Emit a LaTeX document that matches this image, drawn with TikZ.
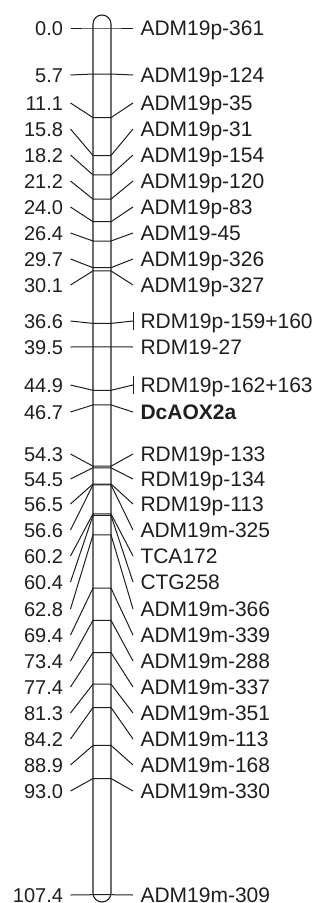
\documentclass[tikz,border=0pt]{standalone}
\usepackage{fontspec}
\setmainfont{Liberation Sans}
\definecolor{ink}{RGB}{30,30,30}
\begin{document}
\begin{tikzpicture}[x=1pt,y=-1pt,
  lab/.style={inner sep=0pt, outer xsep=7.5pt, text height=15pt, text depth=0pt, text=ink},
  num/.style={lab, anchor=east, font=\fontsize{20}{20}\selectfont},
  mklab/.style={lab, anchor=west, font=\fontsize{21}{21}\selectfont},
  conn/.style={draw=ink, line width=1pt},
  chrom/.style={draw=ink, line width=1.1pt, rounded corners=9pt}]
\useasboundingbox (0,0) rectangle (321,903);
\draw[chrom] (93,15) rectangle (111,902);
\foreach \n/\lab/\ly/\cy [count=\i] in {
  0.0/ADM19p-361/28/28,
  5.7/ADM19p-124/75/74,
  11.1/ADM19p-35/103/117.6,
  15.8/ADM19p-31/129/155.5,
  18.2/ADM19p-154/155/174.9,
  21.2/ADM19p-120/181/199.1,
  24.0/ADM19p-83/207/221.7,
  26.4/ADM19-45/233/241.0,
  29.7/ADM19p-326/259/267.7,
  30.1/ADM19p-327/285/270.9,
  36.6/RDM19p-159+160/321/323.4,
  39.5/RDM19-27/347/346.8,
  44.9/RDM19p-162+163/385/390.3,
  46.7/{\textbf{DcAOX2a}}/412/404.9,
  54.3/RDM19p-133/454/466.2,
  54.5/RDM19p-134/479/467.8,
  56.5/RDM19p-113/504/484.0,
  56.6/ADM19m-325/530/484.8,
  60.2/TCA172/556/513.8,
  60.4/CTG258/582/515.4,
  62.8/ADM19m-366/609/534.8,
  69.4/ADM19m-339/635/588.1,
  73.4/ADM19m-288/661/620.3,
  77.4/ADM19m-337/687/652.6,
  81.3/ADM19m-351/713/684.1,
  84.2/ADM19m-113/739/707.5,
  88.9/ADM19m-168/765/745.4,
  93.0/ADM19m-330/791/778.5,
  107.4/ADM19m-309/895/894.7}{
  \node[num] (l\i) at (70.5,\ly) {\n};
  \node[mklab] (r\i) at (133,\ly) {\lab};
  \coordinate (a\i) at (93,\cy);
  \coordinate (b\i) at (111,\cy);
  \draw[conn] (l\i.east) -- (a\i) -- (b\i) -- (r\i.west);
}
\draw[conn] ([yshift=9pt]r11.west) -- ([yshift=-9pt]r11.west);
\draw[conn] ([yshift=9pt]r13.west) -- ([yshift=-9pt]r13.west);
\end{tikzpicture}
\end{document}
